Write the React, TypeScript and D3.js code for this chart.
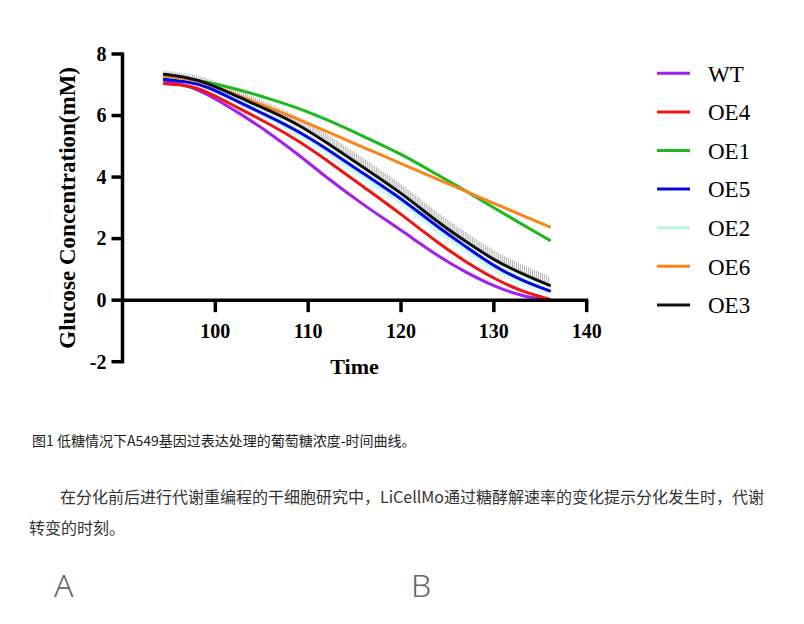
import React, { useEffect, useRef, useState } from "react";
import * as d3 from "d3";

// ---- data ----
const times = [94.5, 97, 99, 102.5, 106, 109, 112, 116, 120, 124, 127, 130, 133, 136];
const WT = [7.12, 6.98, 6.72, 6.1, 5.4, 4.72, 3.98, 3.08, 2.28, 1.42, 0.9, 0.45, 0.13, 0];
const OE4 = [7.03, 6.98, 6.8, 6.24, 5.7, 5.17, 4.55, 3.67, 2.8, 1.85, 1.24, 0.7, 0.28, 0.03];
const OE1 = [7.25, 7.2, 7.1, 6.85, 6.53, 6.24, 5.87, 5.32, 4.76, 4.06, 3.55, 3.0, 2.47, 1.95];
const OE5 = [7.18, 7.1, 6.97, 6.44, 5.94, 5.48, 4.92, 4.1, 3.32, 2.36, 1.74, 1.1, 0.64, 0.3];
const OE2 = [7.24, 7.15, 7.0, 6.47, 5.94, 5.44, 4.86, 4.04, 3.25, 2.3, 1.68, 1.05, 0.62, 0.32];
const OE6 = [7.28, 7.2, 7.07, 6.64, 6.23, 5.87, 5.48, 4.96, 4.44, 3.92, 3.53, 3.15, 2.76, 2.38];
const OE3 = [7.34, 7.24, 7.08, 6.6, 6.14, 5.7, 5.12, 4.3, 3.5, 2.52, 1.9, 1.3, 0.86, 0.48];
const errOE3 = [0.12, 0.14, 0.16, 0.2, 0.24, 0.27, 0.29, 0.3, 0.3, 0.3, 0.3, 0.3, 0.3, 0.3];
const errOE2 = [0.08, 0.08, 0.1, 0.12, 0.14, 0.15, 0.16, 0.17, 0.17, 0.17, 0.17, 0.17, 0.17, 0.17];

const seriesNames = ["WT", "OE4", "OE1", "OE5", "OE2", "OE6", "OE3"];
const seriesValues = [WT, OE4, OE1, OE5, OE2, OE6, OE3];
const seriesColors = ["#a21fec", "#ee1515", "#1fb81f", "#0808e0", "#bdf3e8", "#f7871c", "#111111"];
const drawOrder = ["WT", "OE4", "OE1", "OE2", "OE5", "OE6", "OE3"];

const xTicks = [100, 110, 120, 130, 140];
const yTicks = [-2, 0, 2, 4, 6, 8];

const caption = "图1 低糖情况下A549基因过表达处理的葡萄糖浓度-时间曲线。";
const para1 = "在分化前后进行代谢重编程的干细胞研究中，LiCellMo通过糖酵解速率的变化提示分化发生时，代谢";
const para2 = "转变的时刻。";

const serif = "'Liberation Serif', 'Times New Roman', serif";
const cjk = "'Noto Sans CJK SC', 'Noto Sans', sans-serif";

export default function App() {
  const x = d3.scaleLinear().domain([90, 140]).range([122.5, 586.7]);
  const y = d3.scaleLinear().domain([-2, 8]).range([361.7, 54]);
  const line = d3
    .line<number>()
    .x((_, i) => x(times[i]))
    .y((d) => y(d))
    .curve(d3.curveBasis);

  const refOE3 = useRef<SVGPathElement>(null);
  const refOE2 = useRef<SVGPathElement>(null);
  const [hatch3, setHatch3] = useState<{ x: number; y1: number; y2: number }[]>([]);
  const [hatch2, setHatch2] = useState<{ x: number; y1: number; y2: number }[]>([]);

  useEffect(() => {
    const unit = y(0) - y(1);
    const sample = (el: SVGPathElement | null, err: number[], up: boolean, down: boolean, step: number) => {
      if (!el) return [];
      const es = d3.scaleLinear().domain(times).range(err).clamp(true);
      const L = el.getTotalLength();
      const out: { x: number; y1: number; y2: number }[] = [];
      for (let l = 0; l <= L; l += step) {
        const p = el.getPointAtLength(l);
        const e = es(x.invert(p.x)) * unit;
        out.push({ x: p.x, y1: down ? p.y + e : p.y, y2: up ? p.y - e : p.y });
      }
      return out;
    };
    setHatch3(sample(refOE3.current, errOE3, true, false, 2.2));
    setHatch2(sample(refOE2.current, errOE2, true, true, 2.2));
  }, []);

  const x0 = x(90);
  return (
    <div style={{ position: "absolute", left: 0, top: 0, width: 804, height: 624, background: "#fff" }}>
      <svg width={804} height={624} style={{ display: "block" }}>
        {/* error hatches */}
        <g stroke="#b3efe6" strokeWidth={0.8}>
          {hatch2.map((h, i) => (
            <line key={i} x1={h.x} x2={h.x} y1={h.y1} y2={h.y2} />
          ))}
        </g>
        <g stroke="#9a9a9a" strokeWidth={0.7}>
          {hatch3.map((h, i) => (
            <line key={i} x1={h.x} x2={h.x} y1={h.y1} y2={h.y2} />
          ))}
        </g>
        {/* curves */}
        <g fill="none" strokeWidth={3} strokeLinecap="round">
          {drawOrder.map((name) => {
            const idx = seriesNames.indexOf(name);
            return (
              <path
                key={name}
                ref={name === "OE3" ? refOE3 : name === "OE2" ? refOE2 : undefined}
                d={line(seriesValues[idx]) || ""}
                stroke={seriesColors[idx]}
              />
            );
          })}
        </g>
        {/* axes */}
        <g stroke="#000" strokeWidth={3.5} fill="none">
          <line x1={x0} x2={x0} y1={y(8) - 1.5} y2={y(-2) + 1.5} />
          <line x1={x0 - 1.5} x2={x(140) + 1.5} y1={y(0)} y2={y(0)} />
          {yTicks.map((t) => (
            <line key={"yt" + t} x1={x0 - 11} x2={x0} y1={y(t)} y2={y(t)} />
          ))}
          {xTicks.map((t) => (
            <line key={"xt" + t} x1={x(t)} x2={x(t)} y1={y(0)} y2={y(0) + 12} />
          ))}
        </g>
        <g fontFamily={serif} fontWeight="bold" fontSize={20} fill="#000">
          {yTicks.map((t) => (
            <text key={"yl" + t} x={x0 - 16} y={y(t) + 6.8} textAnchor="end">
              {t}
            </text>
          ))}
          {xTicks.map((t) => (
            <text key={"xl" + t} x={x(t)} y={338} textAnchor="middle">
              {t}
            </text>
          ))}
          <text x={(x0 + x(140)) / 2} y={374} textAnchor="middle" fontSize={22}>
            Time
          </text>
          <text transform={`translate(75,${(y(8) + y(-2)) / 2}) rotate(-90)`} textAnchor="middle" fontSize={23}>
            Glucose Concentration(mM)
          </text>
        </g>
        {/* legend */}
        <g fontFamily={serif} fontSize={23} fill="#000">
          {seriesNames.map((n, i) => {
            const cy = 73.3 + i * 38.6;
            return (
              <g key={n}>
                <line x1={657} x2={690} y1={cy} y2={cy} stroke={seriesColors[i]} strokeWidth={3} />
                <text x={708} y={cy + 8.3}>
                  {n}
                </text>
              </g>
            );
          })}
        </g>
        {/* page text */}
        <text x={32} y={446} fontFamily={cjk} fontSize={14} fill="#222">
          {caption}
        </text>
        <text x={60} y={503} fontFamily={cjk} fontSize={16} fill="#333">
          {para1}
        </text>
        <text x={29} y={534} fontFamily={cjk} fontSize={16} fill="#333">
          {para2}
        </text>
        <text x={54} y={597} fontFamily="'Noto Sans', sans-serif" fontWeight={300} fontSize={32} fill="#666">
          A
        </text>
        <text x={411} y={597} fontFamily="'Noto Sans', sans-serif" fontWeight={300} fontSize={32} fill="#666">
          B
        </text>
      </svg>
    </div>
  );
}
